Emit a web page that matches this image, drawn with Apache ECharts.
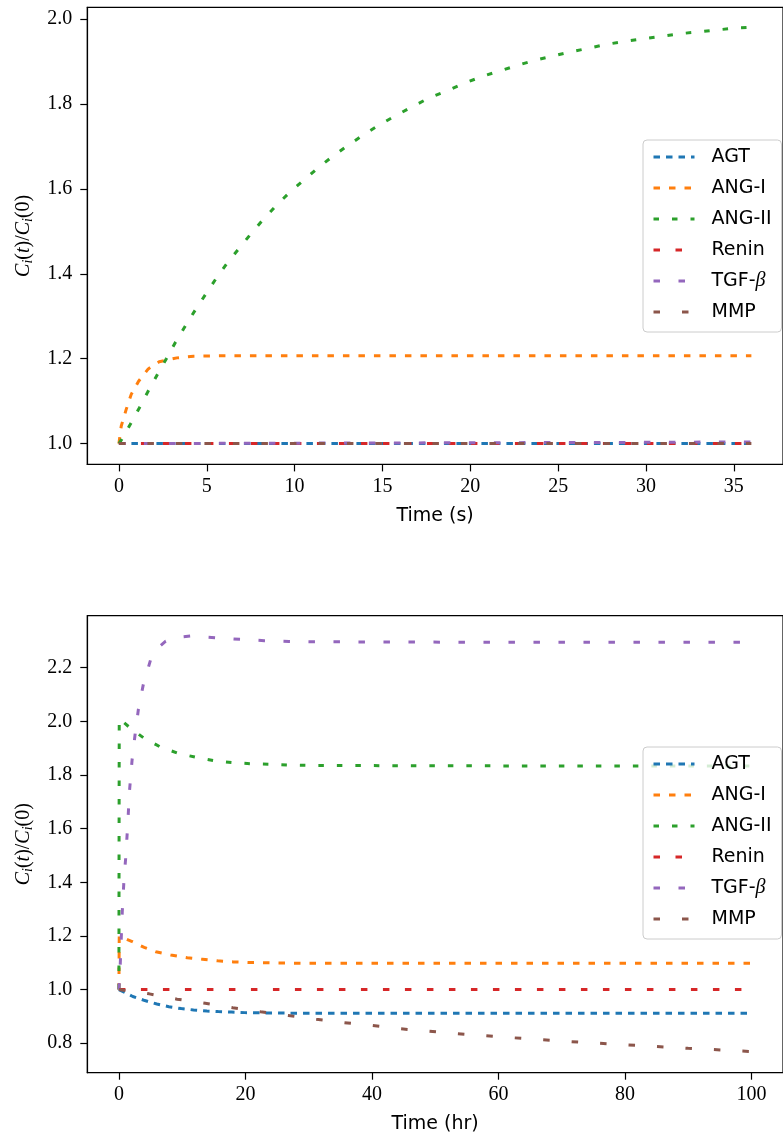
<!DOCTYPE html>
<html>
<head>
<meta charset="utf-8">
<script src="https://cdn.jsdelivr.net/npm/echarts@6/dist/echarts.min.js"></script>
<style>html,body{margin:0;padding:0;background:#fff;}#c{width:783px;height:1142px;}</style>
</head>
<body>
<div id="c"></div>
<script>
// ---- names / ticks ----
const seriesNames = ['AGT', 'ANG-I', 'ANG-II', 'Renin', 'TGF-β', 'MMP'];
const topXTicks = [0, 5, 10, 15, 20, 25, 30, 35];
const topYTicks = [1.0, 1.2, 1.4, 1.6, 1.8, 2.0];
const botXTicks = [0, 20, 40, 60, 80, 100];
const botYTicks = [0.8, 1.0, 1.2, 1.4, 1.6, 1.8, 2.0, 2.2];

// ---- top panel (time in s) ----
const topAGT = [[0, 1.0], [36, 1.0]];
const topANG1 = [[0, 1.0], [0.13, 1.041], [0.41, 1.08], [0.7, 1.116], [1.12, 1.147], [1.67, 1.176], [2.29, 1.193], [3.3, 1.202], [4.25, 1.206], [6, 1.207], [10, 1.207], [20, 1.207], [36, 1.207]];
const topANG2 = [[0, 1.0], [0.13, 1.008], [0.64, 1.045], [1.16, 1.084], [1.67, 1.124], [2.19, 1.163], [2.7, 1.2], [3.22, 1.239], [3.78, 1.277], [4.35, 1.315], [4.94, 1.352], [5.53, 1.389], [6.16, 1.425], [6.84, 1.46], [7.49, 1.493], [8.19, 1.527], [8.93, 1.56], [9.72, 1.592], [10.53, 1.621], [11.31, 1.649], [12.17, 1.677], [13.02, 1.702], [13.9, 1.727], [14.83, 1.751], [15.77, 1.773], [16.7, 1.794], [17.64, 1.814], [18.6, 1.83], [19.6, 1.848], [20.6, 1.864], [21.67, 1.878], [22.66, 1.891], [23.67, 1.903], [24.7, 1.913], [25.7, 1.923], [26.78, 1.932], [27.8, 1.941], [28.84, 1.948], [29.9, 1.954], [30.94, 1.96], [31.97, 1.966], [33.0, 1.97], [34.1, 1.975], [35.15, 1.979], [36, 1.981]];
const topRenin = [[0, 1.0], [36, 1.0]];
const topTGF = [[0, 1.0], [10, 1.001], [20, 1.002], [30, 1.003], [36, 1.004]];
const topMMP = [[0, 1.0], [36, 1.0]];

// ---- bottom panel (time in hr) ----
const botAGT = [[0, 1.0], [2.19, 0.974], [4.1, 0.959], [6, 0.946], [7.9, 0.936], [9.85, 0.929], [11.8, 0.924], [13.9, 0.92], [15.7, 0.918], [17.8, 0.916], [19.9, 0.914], [23, 0.913], [27, 0.912], [40, 0.912], [60, 0.912], [100, 0.912]];
const botANG1 = [[0, 1.0], [0.05, 1.2], [1, 1.19], [2, 1.18], [3, 1.168], [4, 1.157], [5.84, 1.141], [8.2, 1.129], [10.8, 1.119], [13.2, 1.113], [15.6, 1.107], [18.1, 1.103], [20.7, 1.101], [25, 1.099], [30, 1.098], [50, 1.098], [100, 1.098]];
const botANG2 = [[0, 1.0], [0.02, 1.5], [0.05, 2.01], [1.56, 1.98], [3.86, 1.939], [6.5, 1.905], [9.33, 1.881], [12.2, 1.866], [15.1, 1.853], [18.1, 1.846], [20.9, 1.842], [24, 1.84], [26.9, 1.837], [30, 1.836], [40, 1.835], [60, 1.834], [80, 1.834], [100, 1.834]];
const botRenin = [[0, 1.0], [100, 1.0]];
const botTGF = [[0, 1.0], [0.22, 1.1], [0.53, 1.29], [0.8, 1.41], [1.1, 1.5], [1.4, 1.62], [1.67, 1.74], [2.09, 1.858], [2.56, 1.952], [3.08, 2.045], [3.86, 2.138], [5.0, 2.229], [6.2, 2.275], [7.4, 2.299], [9, 2.313], [11.3, 2.318], [15.2, 2.312], [19.1, 2.306], [23, 2.301], [26.9, 2.298], [30.9, 2.297], [40, 2.296], [60, 2.295], [80, 2.295], [100, 2.295]];
const botMMP = [[0, 1.0], [4.8, 0.984], [9.2, 0.964], [13.65, 0.949], [18, 0.932], [22.4, 0.917], [26.8, 0.903], [31.2, 0.889], [35.5, 0.877], [40, 0.866], [44.4, 0.854], [48.8, 0.845], [53.2, 0.836], [60, 0.824], [70, 0.808], [80, 0.794], [90, 0.781], [100, 0.769]];

const colors = ['#1f77b4', '#ff7f0e', '#2ca02c', '#d62728', '#9467bd', '#8c564b'];
const dashes = [[6.5, 6], [6.5, 9], [5.5, 13], [6.5, 15.5], [6.5, 18.5], [6.5, 22]];

const chart = echarts.init(document.getElementById('c'), null, {renderer: 'canvas'});

const serif = 'Liberation Serif';
const sans = 'DejaVu Sans';

function xAxisCfg(idx, min, max, ticks, name) {
  return {
    type: 'value', gridIndex: idx, min: min, max: max,
    name: name, nameLocation: 'middle', nameGap: 42,
    nameTextStyle: {fontFamily: sans, fontSize: 19, color: '#000'},
    axisLine: {show: true, onZero: false, lineStyle: {color: '#000', width: 1.2}},
    axisTick: {show: true, customValues: ticks, length: 7, lineStyle: {color: '#000', width: 1.2}},
    axisLabel: {show: true, customValues: ticks, margin: 12, fontFamily: serif, fontSize: 20, color: '#000',
      formatter: v => String(Math.round(v))},
    splitLine: {show: false}
  };
}
function yAxisCfg(idx, min, max, ticks) {
  return {
    type: 'value', gridIndex: idx, min: min, max: max,
    name: '{c|C}{s|i}{n|(}{c|t}{n|)/}{c|C}{s|i}{n|(0)}',
    nameLocation: 'middle', nameGap: 52, nameRotate: 90,
    nameTextStyle: {
      color: '#000',
      rich: {
        c: {fontFamily: serif, fontStyle: 'italic', fontSize: 20, color: '#000', lineHeight: 24},
        n: {fontFamily: serif, fontSize: 20, color: '#000', lineHeight: 24},
        s: {fontFamily: serif, fontStyle: 'italic', fontSize: 14, color: '#000', lineHeight: 14, verticalAlign: 'bottom'}
      }
    },
    axisLine: {show: true, onZero: false, lineStyle: {color: '#000', width: 1.2}},
    axisTick: {show: true, customValues: ticks, length: 7, lineStyle: {color: '#000', width: 1.2}},
    axisLabel: {show: true, customValues: ticks, margin: 15, fontFamily: serif, fontSize: 20, color: '#000',
      formatter: v => v.toFixed(1)},
    splitLine: {show: false}
  };
}

const topData = [topAGT, topANG1, topANG2, topRenin, topTGF, topMMP];
const botData = [botAGT, botANG1, botANG2, botRenin, botTGF, botMMP];
const series = [];
[topData, botData].forEach((set, g) => {
  set.forEach((d, i) => {
    series.push({
      type: 'line', name: seriesNames[i], xAxisIndex: g, yAxisIndex: g,
      data: d, showSymbol: false, symbol: 'none', smooth: false,
      color: colors[i],
      lineStyle: {color: colors[i], width: 3, type: dashes[i], cap: 'butt'},
      emphasis: {disabled: true}, z: 2
    });
  });
});

function legendCfg(top) {
  return {
    show: true, orient: 'vertical', left: 643, top: top,
    data: seriesNames,
    itemWidth: 41, itemHeight: 14, itemGap: 11,
    padding: [7, 10, 10, 9],
    backgroundColor: 'rgba(255,255,255,0.8)',
    borderColor: '#cccccc', borderWidth: 1, borderRadius: 4,
    selectedMode: false,
    itemStyle: {opacity: 0, borderWidth: 0},
    lineStyle: {width: 3},
    textStyle: {fontFamily: sans, fontSize: 19, color: '#000', lineHeight: 20, padding: [0, 0, 0, 12],
      rich: {b: {fontFamily: serif, fontStyle: 'italic', fontSize: 20, color: '#000'}}},
    formatter: n => n === 'TGF-β' ? 'TGF-{b|β}' : n
  };
}

chart.setOption({
  animation: false,
  backgroundColor: '#fff',
  grid: [
    {left: 87.3, top: 7.3, width: 704.1, height: 457.1, show: true, borderColor: '#000', borderWidth: 1.2, backgroundColor: 'transparent'},
    {left: 87.3, top: 615.7, width: 704, height: 457, show: true, borderColor: '#000', borderWidth: 1.2, backgroundColor: 'transparent'}
  ],
  xAxis: [xAxisCfg(0, -1.8, 37.8, topXTicks, 'Time (s)'), xAxisCfg(1, -5, 105, botXTicks, 'Time (hr)')],
  yAxis: [yAxisCfg(0, 0.951, 2.028, topYTicks), yAxisCfg(1, 0.69, 2.394, botYTicks)],
  legend: [legendCfg(140), legendCfg(747)],
  series: series
});
</script>
</body>
</html>
